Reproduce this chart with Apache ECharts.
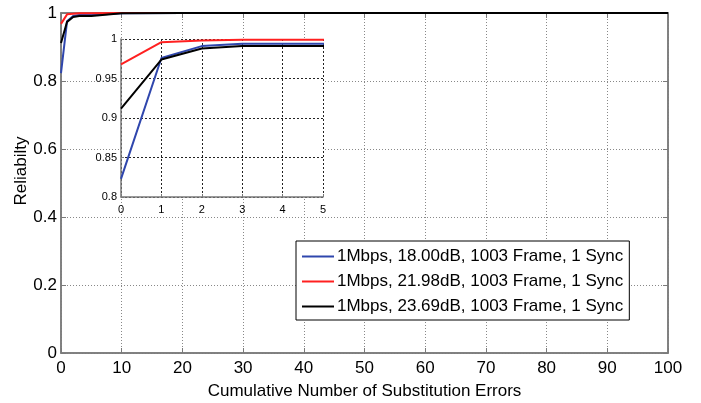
<!DOCTYPE html>
<html>
<head>
<meta charset="utf-8">
<script src="https://cdn.jsdelivr.net/npm/echarts@6/dist/echarts.min.js"></script>
<style>
  html, body { margin: 0; padding: 0; background: #fff; }
  #chart { width: 701px; height: 403px; }
</style>
</head>
<body>
<div id="chart"></div>
<script>
// Cumulative number of substitution errors (x) and reliability per link setting
const errorCounts = [0, 1, 2, 3, 4, 5, 10, 20, 30, 40, 50, 60, 70, 80, 90, 100];
const reliability18dB = [0.823, 0.976, 0.991, 0.994, 0.994, 0.994, 0.999, 1, 1, 1, 1, 1, 1, 1, 1, 1];
const reliability2198dB = [0.968, 0.996, 0.998, 0.999, 0.999, 0.999, 1, 1, 1, 1, 1, 1, 1, 1, 1, 1];
const reliability2369dB = [0.912, 0.974, 0.988, 0.991, 0.991, 0.991, 0.999, 1, 1, 1, 1, 1, 1, 1, 1, 1];

const seriesNames = [
  '1Mbps, 18.00dB, 1003 Frame, 1 Sync',
  '1Mbps, 21.98dB, 1003 Frame, 1 Sync',
  '1Mbps, 23.69dB, 1003 Frame, 1 Sync'
];
const seriesColors = ['#2f46ad', '#ff2020', '#000000'];
const seriesValues = [reliability18dB, reliability2198dB, reliability2369dB];

const yTitle = 'Reliabilty';
const xTitle = 'Cumulative Number of Substitution Errors';

const FONT = 'Liberation Sans, Arial, sans-serif';
const axisGray = '#7a7a7a';

function pairs(vals) {
  return errorCounts.map((x, i) => [x, vals[i]]);
}

const series = [];
// main plot
seriesValues.forEach((vals, i) => {
  series.push({
    name: seriesNames[i], type: 'line', xAxisIndex: 0, yAxisIndex: 0,
    data: pairs(vals), showSymbol: false, symbol: 'none',
    lineStyle: { color: seriesColors[i], width: 2 }, itemStyle: { color: seriesColors[i] },
    z: 2, animation: false
  });
});
// zoomed inset over the first five errors
seriesValues.forEach((vals, i) => {
  series.push({
    name: seriesNames[i], type: 'line', xAxisIndex: 2, yAxisIndex: 2,
    data: pairs(vals), showSymbol: false, symbol: 'none',
    lineStyle: { color: seriesColors[i], width: 2 }, itemStyle: { color: seriesColors[i] },
    z: 5, animation: false
  });
});

const mainSplit = { show: true, lineStyle: { color: '#888', type: [1, 2], width: 1 } };
const insetSplit = { show: true, lineStyle: { color: '#222', type: [2, 2], width: 1 } };

const option = {
  backgroundColor: '#fff',
  animation: false,
  textStyle: { fontFamily: FONT },
  grid: [
    { left: 61, right: 33, top: 13, bottom: 50, outerBoundsMode: 'none', containLabel: false,
      show: true, borderColor: axisGray, borderWidth: 1.5, backgroundColor: 'transparent' },
    { left: 121, top: 39, width: 202, height: 158, outerBoundsMode: 'none', containLabel: false,
      show: true, borderWidth: 0, backgroundColor: '#fff', z: 1 }
  ],
  // vertical axis title
  graphic: [{
    type: 'text', rotation: Math.PI / 2,
    x: 21, y: 171,
    style: { text: yTitle, font: '17px ' + FONT, fill: '#000', align: 'center', verticalAlign: 'middle' }
  }],
  legend: {
    orient: 'vertical', left: 296, top: 241,
    data: seriesNames,
    backgroundColor: '#fff', borderColor: '#000', borderWidth: 1,
    padding: [7, 6, 5, 6],
    itemWidth: 32, itemHeight: 2, itemGap: 8,
    icon: 'rect',
    textStyle: { fontSize: 17, color: '#000', fontFamily: FONT, padding: [0, 0, 0, -2] },
    z: 10
  },
  xAxis: [
    {
      type: 'value', gridIndex: 0, min: 0, max: 100, interval: 10,
      name: xTitle, nameLocation: 'middle', nameGap: 30,
      nameTextStyle: { fontSize: 17, color: '#000', fontFamily: FONT },
      axisLine: { show: true, onZero: false, lineStyle: { color: axisGray, width: 1.5 } },
      axisTick: { show: true, inside: true, length: 5, lineStyle: { color: axisGray } },
      axisLabel: { fontSize: 17, color: '#000', margin: 7, fontFamily: FONT },
      splitLine: mainSplit
    },
    {
      type: 'value', gridIndex: 0, position: 'top', min: 0, max: 100, interval: 10,
      axisLine: { show: true, onZero: false, lineStyle: { color: axisGray, width: 1.5 } },
      axisTick: { show: true, inside: true, length: 5, lineStyle: { color: axisGray } },
      axisLabel: { show: false }, splitLine: { show: false }
    },
    {
      type: 'value', gridIndex: 1, min: 0, max: 5, interval: 1, z: 3,
      axisLine: { show: true, onZero: false, lineStyle: { color: axisGray, width: 1.5 } },
      axisTick: { show: true, inside: true, length: 3, lineStyle: { color: axisGray } },
      axisLabel: { fontSize: 11, color: '#000', margin: 7, fontFamily: FONT },
      splitLine: insetSplit
    }
  ],
  yAxis: [
    {
      type: 'value', gridIndex: 0, min: 0, max: 1, interval: 0.2,
      axisLine: { show: true, onZero: false, lineStyle: { color: axisGray, width: 1.5 } },
      axisTick: { show: true, inside: true, length: 5, lineStyle: { color: axisGray } },
      axisLabel: { fontSize: 17, color: '#000', margin: 4, fontFamily: FONT },
      splitLine: mainSplit
    },
    {
      type: 'value', gridIndex: 0, position: 'right', min: 0, max: 1, interval: 0.2,
      axisLine: { show: true, onZero: false, lineStyle: { color: axisGray, width: 1.5 } },
      axisTick: { show: true, inside: true, length: 5, lineStyle: { color: axisGray } },
      axisLabel: { show: false }, splitLine: { show: false }
    },
    {
      type: 'value', gridIndex: 1, min: 0.8, max: 1, interval: 0.05, z: 3,
      axisLine: { show: true, onZero: false, lineStyle: { color: axisGray, width: 1.5 } },
      axisTick: { show: true, inside: true, length: 3, lineStyle: { color: axisGray } },
      axisLabel: { fontSize: 11, color: '#000', margin: 4, fontFamily: FONT, backgroundColor: '#fff' },
      splitLine: insetSplit
    }
  ],
  series: series
};

const chart = echarts.init(document.getElementById('chart'), null, { renderer: 'canvas' });
chart.setOption(option);
</script>
</body>
</html>
